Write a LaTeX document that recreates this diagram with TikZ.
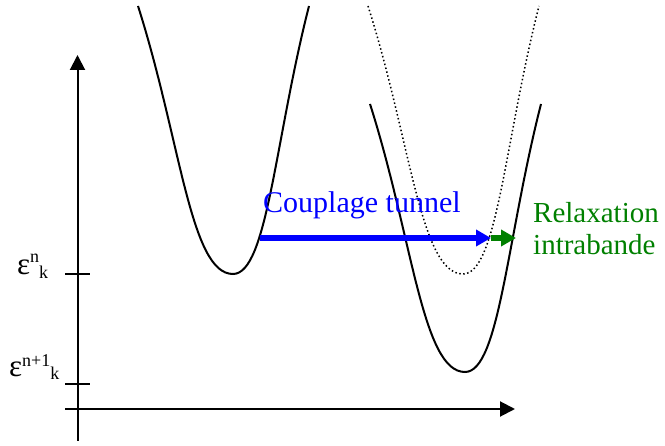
\documentclass[tikz,border=0pt]{standalone}
\usepackage{fontspec}
\setmainfont{Liberation Serif}
\usetikzlibrary{arrows.meta,positioning,calc}
\definecolor{tunblue}{RGB}{0,0,255}
\definecolor{relgreen}{RGB}{0,128,0}
\tikzset{
  axis/.style={line width=2pt, -{Triangle[length=15pt,width=15pt]}},
  tickline/.style={line width=2pt},
  band/.style={line width=2pt},
  ghost/.style={line width=1.5pt, dash pattern=on 1.5pt off 2.5pt},
  flow/.style={line width=5.5pt, -{Triangle[length=15pt,width=16pt]}},
  lbl/.style={inner sep=0pt, anchor=base west},
  valley/.pic={
    \draw[pic actions] (-95,-268) .. controls (-52.25,-134) and (-42.75,0) .. (0,0)
      .. controls (34.2,0) and (41.8,-134) .. (76,-268);
  },
}
\newcommand{\bigsz}{\fontsize{31}{34}\selectfont}
\newcommand{\smlsz}{\fontsize{18}{20}\selectfont}

\begin{document}
\begin{tikzpicture}[x=1pt, y=-1pt]
  \useasboundingbox (0,0) rectangle (665,446);

  % axes
  \coordinate (yBot) at (77.5,441);
  \coordinate (yTop) at (77.5,55);
  \coordinate (xLeft) at (65,409);
  \coordinate (xRight) at (515,409);
  \draw[axis] (yBot) -- (yTop);
  \draw[axis] (xLeft) -- (xRight);

  % levels
  \draw[tickline] (65,274) -- (90,274);
  \draw[tickline] (65,384) -- (90,384);
  \node[lbl] (epsN) at (17,275) {\bigsz ε\raisebox{12pt}{\smlsz n}\raisebox{-4pt}{\smlsz k}};
  \node[lbl] (epsM) at (9,377) {\bigsz ε\raisebox{10pt}{\smlsz n+1}\raisebox{-3pt}{\smlsz k}};

  % bands
  \pic[band] (left) at (233,274) {valley};
  \pic[ghost] (shift) at (463,274) {valley};
  \pic[band] (right) at (465,372) {valley};

  % transfer
  \coordinate (tunStart) at (260,238);
  \coordinate (tunEnd) at (491,238);
  \coordinate (relEnd) at (516,238);
  \draw[flow, tunblue] (tunStart) -- (tunEnd);
  \draw[flow, relgreen] (tunEnd) -- (relEnd);

  \node[lbl, text=tunblue, font=\fontsize{30}{36}\selectfont] (tunnel) at (263,213) {Couplage tunnel};
  \node[lbl, text=relgreen, align=left, font=\fontsize{29}{32}\selectfont] (relax) at (533,255)
    {Relaxation\\intrabande};
\end{tikzpicture}
\end{document}
